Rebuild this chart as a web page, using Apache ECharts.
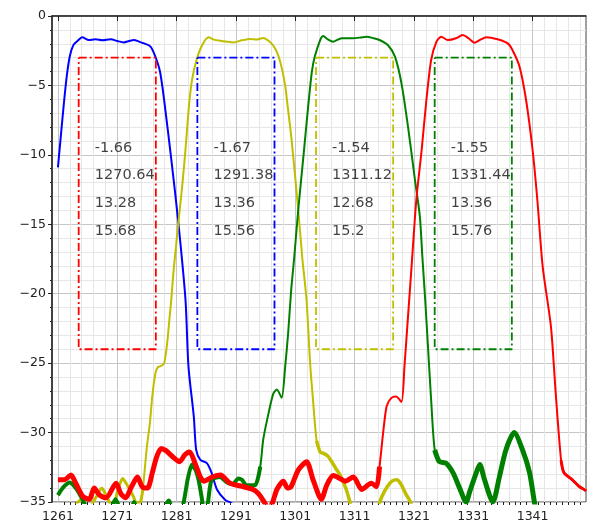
<!DOCTYPE html>
<html>
<head>
<meta charset="utf-8">
<script src="https://cdn.jsdelivr.net/npm/echarts@6/dist/echarts.min.js"></script>
<style>
html,body{margin:0;padding:0;background:#fff;}
#chart{width:590px;height:532px;}
</style>
</head>
<body>
<div id="chart"></div>
<script>
// ---- data (wavelength nm, transmission dB) ----
const blueNm = [1261.0,1261.5,1262.0,1262.5,1263.0,1263.6,1264.3,1265.1,1266.2,1267.3,1268.5,1269.9,1271.0,1272.1,1273.0,1273.8,1274.7,1275.5,1276.6,1277.4,1278.2,1278.9,1280.1,1281.3,1282.5,1283.0,1283.9,1284.3,1285.0,1286.1,1286.9,1287.8,1289.2,1290.3,1291.5];
const blueDb = [-10.9,-8.6,-6.3,-4.3,-2.9,-2.1,-1.8,-1.53,-1.73,-1.68,-1.75,-1.68,-1.8,-1.9,-1.8,-1.73,-1.85,-1.97,-2.2,-2.9,-4.0,-6.05,-10.3,-14.9,-20.45,-25.25,-28.85,-31.25,-31.97,-32.2,-32.9,-34.1,-34.85,-35.1,-35.8];

const yellowNm = [1261,1262.5,1264,1265,1266,1267.5,1268.4,1269.2,1270.2,1271.2,1271.9,1272.7,1273.6,1274.3,1274.9,1275.3,1275.6,1276.0,1276.5,1276.9,1277.4,1277.8,1278.4,1278.9,1279.4,1279.8,1280.1,1280.5,1281.3,1282.0,1282.5,1283.1,1283.6,1284.4,1285.3,1286.4,1287.3,1288.3,1289.5,1290.6,1292.0,1293.4,1294.5,1295.6,1296.7,1297.4,1298.1,1298.7,1299.3,1299.6,1300.4,1301.5,1302.2,1302.9,1303.5,1304.0,1304.6,1305.2,1305.8,1306.5,1307.3,1308.0,1308.5,1309.0,1309.6,1310.2,1311.0,1313.0,1315.0,1315.6,1316.5,1317.3,1318.1,1318.8,1319.6,1320.3,1320.8,1322.0];
const yellowDb = [-36.5,-36.0,-35.2,-34.8,-35.5,-34.6,-34.0,-34.6,-35.4,-34.0,-33.3,-33.8,-34.5,-35.1,-35.0,-34.1,-32.8,-31.0,-29.3,-27.4,-25.8,-25.3,-25.2,-25.0,-23.6,-21.8,-20.45,-18.3,-14.9,-12.0,-9.6,-6.4,-4.6,-3.1,-2.1,-1.53,-1.7,-1.78,-1.85,-1.9,-1.75,-1.65,-1.7,-1.58,-1.85,-2.2,-2.8,-3.7,-5.0,-6.05,-9.0,-13.97,-17.5,-20.45,-25.0,-27.7,-30.6,-31.4,-31.5,-31.7,-32.2,-32.7,-33.0,-33.5,-34.1,-35.0,-36.5,-37.0,-35.3,-34.6,-33.9,-33.5,-33.4,-33.7,-34.4,-34.9,-35.5,-36.5];

const greenNm = [1261,1262,1263,1264,1265,1266,1267.5,1268.5,1269.6,1270.7,1271.6,1273,1273.8,1274.6,1276,1278,1279.7,1280.5,1281.5,1282.2,1282.9,1283.6,1284.2,1284.7,1285.2,1285.6,1286.2,1286.9,1288.3,1289.5,1290.5,1291.4,1292.0,1292.8,1294.2,1295.1,1295.6,1296.5,1297.3,1297.9,1298.7,1299.3,1299.8,1300.3,1300.8,1301.5,1302.4,1303.2,1303.8,1304.3,1305.2,1305.7,1306.5,1307.4,1308.8,1310.7,1312.0,1313.0,1314.2,1315.2,1316.6,1317.8,1318.9,1320.0,1321.1,1322.0,1322.4,1322.9,1323.4,1323.9,1324.5,1325.3,1326.4,1327.6,1328.7,1329.8,1330.4,1331.5,1332.1,1332.9,1334.3,1335.4,1336.5,1337.9,1339.3,1340.5,1341.3,1342.0];
const greenDb = [-34.5,-33.9,-33.6,-34.0,-34.7,-35.5,-35.8,-35.3,-35.7,-34.8,-35.6,-36.0,-35.0,-36.0,-37.0,-36.5,-34.9,-36.0,-36.0,-35.0,-33.3,-32.3,-32.7,-33.4,-34.6,-35.5,-35.2,-33.4,-33.2,-33.6,-33.7,-33.3,-33.4,-33.8,-33.8,-32.45,-30.5,-28.6,-27.2,-26.9,-27.5,-25.25,-22.85,-19.8,-17.5,-13.97,-10.0,-6.4,-4.0,-2.9,-1.73,-1.44,-1.68,-1.85,-1.6,-1.6,-1.55,-1.49,-1.6,-1.73,-2.09,-2.93,-4.85,-7.97,-11.57,-14.45,-17.2,-20.45,-24.05,-27.65,-31.25,-32.1,-32.2,-32.9,-34.0,-35.0,-34.25,-32.9,-32.3,-33.4,-35.0,-33.2,-31.25,-30.0,-31.25,-32.9,-35.0,-36.5];

const redNm = [1261,1262.1,1263.2,1264.0,1265.2,1266.3,1267.1,1268.0,1269.1,1270.8,1271.6,1272.4,1273.4,1274.4,1275.2,1276.1,1276.9,1277.6,1278.4,1279.2,1280.5,1281.5,1282.4,1283.2,1284.1,1285.0,1285.6,1287.0,1288.4,1290.0,1292.3,1293.9,1294.8,1295.9,1296.5,1297.2,1297.9,1299.0,1299.7,1300.3,1301.5,1302.9,1304.0,1305.4,1306.3,1307.4,1308.5,1309.4,1310.8,1312.2,1313.8,1314.7,1315.2,1315.8,1316.4,1317.2,1318.0,1318.9,1319.4,1320.0,1320.6,1321.4,1322.3,1323.1,1323.9,1324.8,1325.6,1326.7,1328.1,1329.2,1330.2,1331.2,1332.2,1333.2,1335.1,1336.8,1337.6,1338.8,1339.9,1341.0,1341.8,1342.7,1344.1,1344.9,1345.8,1346.3,1347.7,1348.9,1349.7,1350.0];
const redDb = [-33.4,-33.4,-33.05,-33.65,-34.6,-34.8,-34.0,-34.5,-34.7,-33.65,-34.4,-34.7,-33.9,-33.2,-33.9,-34.0,-32.9,-31.8,-31.15,-31.3,-31.8,-32.1,-31.6,-31.4,-32.2,-33.2,-33.5,-33.2,-33.05,-33.65,-33.9,-34.1,-34.4,-35.1,-35.6,-35.0,-34.1,-33.5,-34.0,-33.9,-32.7,-32.1,-33.4,-34.8,-33.8,-33.1,-33.3,-33.5,-33.2,-34.1,-33.65,-33.9,-32.45,-30.05,-28.1,-27.5,-27.4,-27.8,-25.25,-21.65,-18.05,-13.25,-9.65,-6.05,-3.17,-1.85,-1.49,-1.73,-1.6,-1.37,-1.6,-1.92,-1.7,-1.53,-1.68,-1.97,-2.45,-3.65,-6.05,-9.65,-13.25,-18.05,-22.4,-27.2,-32.0,-32.9,-33.4,-33.9,-34.1,-34.2];

// channel boxes (nm / dB) and their annotation texts
const boxLeft   = [1264.5, 1284.5, 1304.5, 1324.5];
const boxRight  = [1277.5, 1297.5, 1317.5, 1337.5];
const boxTop    = -3;
const boxBottom = -24;
const lossText   = ['-1.66', '-1.67', '-1.54', '-1.55'];
const centerText = ['1270.64', '1291.38', '1311.12', '1331.44'];
const widthText  = ['13.28', '13.36', '12.68', '13.36'];
const bandText   = ['15.68', '15.56', '15.2', '15.76'];

const xTickLabels = [1261, 1271, 1281, 1291, 1301, 1311, 1321, 1331, 1341];

// ---- build ----
const zip = (a, b) => a.map((v, i) => [v, b[i]]);
const inRange = (arr, lo, hi) => arr.filter(p => p[0] >= lo && p[0] <= hi);

const C = { blue: '#0000ff', yellow: '#bfbf00', green: '#008000', red: '#ff0000' };
const boxColors = [C.red, C.blue, C.yellow, C.green];

const blue = zip(blueNm, blueDb);
const yellow = zip(yellowNm, yellowDb);
const green = zip(greenNm, greenDb);
const red = zip(redNm, redDb);

function lineSeries(data, color, width) {
  return {
    type: 'line', data: data, symbol: 'none', smooth: 0.25, clip: true,
    lineStyle: { color: color, width: width }, silent: true, animation: false
  };
}

const minorTicks = [];
for (let v = 1261; v < 1350; v++) if (xTickLabels.indexOf(v) < 0) minorTicks.push(v);
const minorGrid = [];
for (let v = 1263; v < 1350; v += 2) if (xTickLabels.indexOf(v) < 0) minorGrid.push(v);

const series = [
  lineSeries(blue, C.blue, 2),
  lineSeries(yellow, C.yellow, 2),
  lineSeries(inRange(yellow, 1261, 1275.3), C.yellow, 3),
  lineSeries(inRange(yellow, 1304.6, 1322), C.yellow, 3.5),
  lineSeries(green, C.green, 2),
  lineSeries(inRange(green, 1261, 1295.1), C.green, 4),
  lineSeries(inRange(green, 1324.5, 1342), C.green, 5),
  lineSeries(red, C.red, 2),
  lineSeries(inRange(red, 1261, 1315.2), C.red, 5),
  lineSeries(inRange(red, 1345.8, 1350), C.red, 3)
];

boxLeft.forEach((l, i) => {
  const r = boxRight[i];
  series.push({
    type: 'line', symbol: 'none', silent: true, animation: false,
    data: [[l, boxTop], [r, boxTop], [r, boxBottom], [l, boxBottom], [l, boxTop]],
    lineStyle: { color: boxColors[i], width: 1.8, type: [8, 3, 2, 3] }
  });
});

const textRows = [lossText, centerText, widthText, bandText];
const textY = [-9.5, -11.5, -13.5, -15.5];
const textPts = [];
boxLeft.forEach((l, i) => {
  textRows.forEach((row, k) => textPts.push([l + 2.7, textY[k], row[i]]));
});
series.push({
  type: 'scatter', data: textPts, symbolSize: 0.1, silent: true, animation: false,
  itemStyle: { color: 'rgba(0,0,0,0)' },
  label: {
    show: true, position: 'right', distance: 0,
    formatter: p => p.data[2],
    color: '#111', fontSize: 14.5, fontFamily: 'DejaVu Sans'
  }
});

const chart = echarts.init(document.getElementById('chart'), null, { renderer: 'canvas' });
chart.setOption({
  animation: false,
  backgroundColor: '#ffffff',
  grid: { left: 52, right: 4, top: 16, bottom: 30, show: true, borderColor: '#444', borderWidth: 1 },
  xAxis: [
    {
      type: 'value', min: 1260, max: 1350,
      axisLine: { show: true, lineStyle: { color: '#222', width: 1.5 } },
      axisTick: { show: true, customValues: xTickLabels, length: 5, lineStyle: { color: '#222' } },
      axisLabel: { customValues: xTickLabels, color: '#222', fontSize: 12.5, fontFamily: 'DejaVu Sans', margin: 8,
                   formatter: v => String(v) },
      splitLine: { show: true, lineStyle: { color: '#c6c6c6', width: 1 } }
    },
    {
      type: 'value', min: 1260, max: 1350, position: 'bottom',
      axisLine: { show: false },
      axisTick: { show: true, customValues: minorTicks, length: 3, lineStyle: { color: '#222' } },
      axisLabel: { show: false },
      splitLine: { show: false }
    },
    {
      type: 'value', min: 1260, max: 1350, position: 'bottom',
      axisLine: { show: false },
      axisTick: { show: false, customValues: minorGrid },
      axisLabel: { show: false },
      splitLine: { show: true, lineStyle: { color: '#e6e6e6', width: 1 } }
    }
  ],
  yAxis: {
    type: 'value', min: -35, max: 0, interval: 5,
    axisLine: { show: true, lineStyle: { color: '#222', width: 1.5 } },
    axisTick: { show: true, length: 4, lineStyle: { color: '#222' } },
    minorTick: { show: true, splitNumber: 5, length: 2, lineStyle: { color: '#222' } },
    axisLabel: {
      color: '#222', fontSize: 12.5, fontFamily: 'DejaVu Sans', margin: 6,
      formatter: v => (v < 0 ? '\u2212' + Math.abs(v) : String(v))
    },
    splitLine: { show: true, lineStyle: { color: '#c6c6c6', width: 1 } },
    minorSplitLine: { show: true, lineStyle: { color: '#e6e6e6', width: 1 } }
  },
  series: series
});
</script>
</body>
</html>
